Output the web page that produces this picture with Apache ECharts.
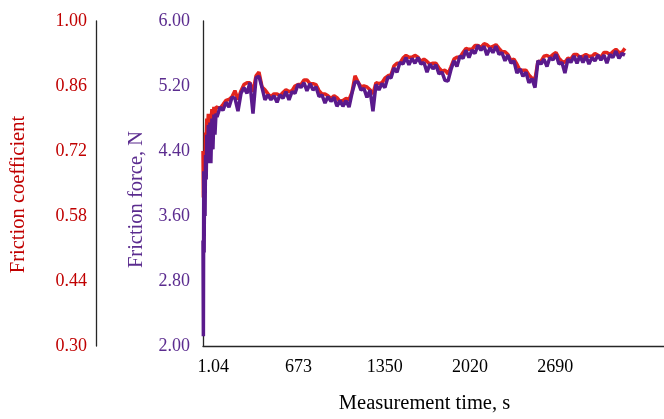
<!DOCTYPE html>
<html><head><meta charset="utf-8">
<script src="https://cdn.jsdelivr.net/npm/echarts@6/dist/echarts.min.js"></script>
<style>html,body{margin:0;padding:0;background:#fff}#c{width:664px;height:419px}</style>
</head><body><div id="c"></div>
<script>
// Measurement time (s) for each sample
const timeSeconds = [0,3,6,9,12,16,20,25,30,36,42,48,55,62,70,78,86,94,102,
110,134,157,181,204,228,251,275,299,322,346,369,393,417,440,464,487,511,534,558,582,605,629,652,676,700,723,747,770,794,817,841,865,888,912,935,959,982,1006,1030,1053,1077,1100,1124,1148,1171,1195,1218,1242,1265,1289,1313,1336,1360,1383,1407,1430,1454,1478,1501,1525,1548,1572,1596,1619,1643,1666,1690,1713,1737,1761,1784,1808,1831,1855,1879,1902,1926,1949,1973,1996,2020,2044,2067,2091,2114,2138,2161,2185,2209,2232,2256,2279,2303,2327,2350,2374,2397,2421,2444,2468,2492,2515,2539,2562,2586,2610,2633,2657,2680,2704,2727,2751,2775,2798,2822,2845,2869,2892,2916,2940,2963,2987,3010,3034,3058,3081,3105,3128,3152,3175,3199,3222,3246,3270,3293,3317];

// Friction force, N
const frictionForce = [3.3,2.12,4.15,3.15,4.05,3.6,4.35,4.05,4.6,4.25,4.72,4.3,4.75,4.25,4.8,4.42,4.85,4.6,4.86,
4.82,4.94,4.90,5.00,4.94,5.06,5.05,4.89,5.11,5.18,
5.11,5.24,4.86,5.30,5.32,5.18,5.03,5.09,5.03,5.08,
5.00,5.09,5.05,5.13,5.03,5.13,5.11,5.22,5.18,5.24,
5.14,5.23,5.15,5.19,5.07,5.09,4.99,5.07,5.01,5.06,
4.95,5.02,4.95,5.02,4.94,5.11,5.25,5.25,5.15,5.17,
5.06,5.15,4.89,5.22,5.15,5.23,5.18,5.31,5.30,5.42,
5.37,5.49,5.47,5.55,5.46,5.54,5.48,5.55,5.47,5.49,
5.37,5.47,5.41,5.46,5.35,5.37,5.27,5.26,5.40,5.51,
5.44,5.57,5.54,5.64,5.55,5.64,5.60,5.70,5.64,5.69,
5.58,5.67,5.61,5.69,5.59,5.61,5.51,5.58,5.48,5.51,
5.36,5.41,5.32,5.37,5.24,5.29,5.18,5.51,5.47,5.53,
5.44,5.55,5.52,5.59,5.47,5.49,5.36,5.53,5.49,5.57,
5.48,5.57,5.49,5.57,5.47,5.55,5.51,5.58,5.52,5.58,
5.48,5.59,5.55,5.63,5.54,5.60,5.58];

// Friction coefficient
const frictionCoef = [0.72,0.62,0.70,0.60,0.72,0.68,0.76,0.74,0.79,0.77,0.80,0.78,0.80,0.78,0.81,0.79,0.815,0.80,0.815,
0.812,0.812,0.820,0.829,0.831,0.837,0.850,0.831,0.850,0.863,
0.867,0.867,0.848,0.882,0.890,0.858,0.852,0.843,0.837,0.843,
0.843,0.839,0.846,0.852,0.848,0.850,0.860,0.863,0.863,0.873,
0.873,0.865,0.865,0.863,0.850,0.843,0.843,0.839,0.833,0.839,
0.835,0.827,0.829,0.833,0.831,0.846,0.882,0.869,0.858,0.860,
0.858,0.852,0.843,0.867,0.865,0.867,0.877,0.882,0.884,0.903,
0.909,0.909,0.920,0.926,0.922,0.922,0.926,0.922,0.913,0.918,
0.913,0.907,0.909,0.909,0.899,0.892,0.894,0.886,0.901,0.918,
0.922,0.922,0.932,0.941,0.939,0.939,0.947,0.947,0.943,0.951,
0.949,0.943,0.945,0.949,0.941,0.934,0.934,0.928,0.915,0.918,
0.907,0.894,0.894,0.894,0.884,0.877,0.875,0.913,0.913,0.924,
0.926,0.922,0.928,0.932,0.920,0.913,0.911,0.920,0.918,0.928,
0.928,0.922,0.924,0.928,0.924,0.924,0.930,0.926,0.922,0.932,
0.932,0.928,0.934,0.939,0.932,0.932,0.941];

// Tick labels
const timeTicks = [1.04, 673, 1350, 2020, 2690];
const forceTicks = [2.00, 2.80, 3.60, 4.40, 5.20, 6.00];
const coefTicks = [0.30, 0.44, 0.58, 0.72, 0.86, 1.00];

const serif = "'Liberation Serif','Times New Roman',serif";
const RED_TXT = '#c00000', PURPLE_TXT = '#5b2c8f';
const axisLineStyle = {color:'#262626', width:1.3};

const chart = echarts.init(document.getElementById('c'));
chart.setOption({
  animation:false,
  backgroundColor:'#fff',
  grid:{left:203, right:0, top:21, bottom:66},
  xAxis:{
    type:'value', min:0, max:3624,
    name:'Measurement time, s', nameLocation:'middle', nameGap:47,
    nameTextStyle:{fontFamily:serif, fontSize:20.5, color:'#000', verticalAlign:'top', padding:[0,18,0,0]},
    axisLine:{show:true, onZero:false, lineStyle:axisLineStyle},
    axisTick:{show:false}, splitLine:{show:false},
    axisLabel:{customValues:timeTicks, formatter:v=>String(v), fontFamily:serif, fontSize:18, color:'#000', margin:12, padding:[0,0,0,20]}
  },
  yAxis:[
    {
      type:'value', min:2, max:6, position:'left',
      name:'Friction force, N', nameLocation:'middle', nameRotate:90, nameGap:56,
      nameTextStyle:{fontFamily:serif, fontSize:20.5, color:PURPLE_TXT, padding:[0,32,0,0]},
      axisLine:{show:true, onZero:false, lineStyle:axisLineStyle},
      axisTick:{show:false}, splitLine:{show:false},
      axisLabel:{customValues:forceTicks, formatter:v=>v.toFixed(2), fontFamily:serif, fontSize:18, color:PURPLE_TXT, margin:13}
    },
    {
      type:'value', min:0.3, max:1.0, position:'left', offset:107,
      name:'Friction coefficient', nameLocation:'middle', nameRotate:90, nameGap:67,
      nameTextStyle:{fontFamily:serif, fontSize:20.5, color:RED_TXT, padding:[0,22,0,0]},
      axisLine:{show:true, onZero:false, lineStyle:axisLineStyle},
      axisTick:{show:false}, splitLine:{show:false},
      axisLabel:{customValues:coefTicks, formatter:v=>v.toFixed(2), fontFamily:serif, fontSize:18, color:RED_TXT, margin:9}
    }
  ],
  series:[
    {type:'line', name:'Friction coefficient', yAxisIndex:1, showSymbol:false, z:2,
     data:timeSeconds.map((t,i)=>[t, frictionCoef[i]]),
     lineStyle:{color:'#e3241c', width:3.5}},
    {type:'line', name:'Friction force', yAxisIndex:0, showSymbol:false, z:3,
     data:timeSeconds.map((t,i)=>[t, frictionForce[i]]),
     lineStyle:{color:'#5a1a8c', width:3.5}}
  ]
});
</script></body></html>
